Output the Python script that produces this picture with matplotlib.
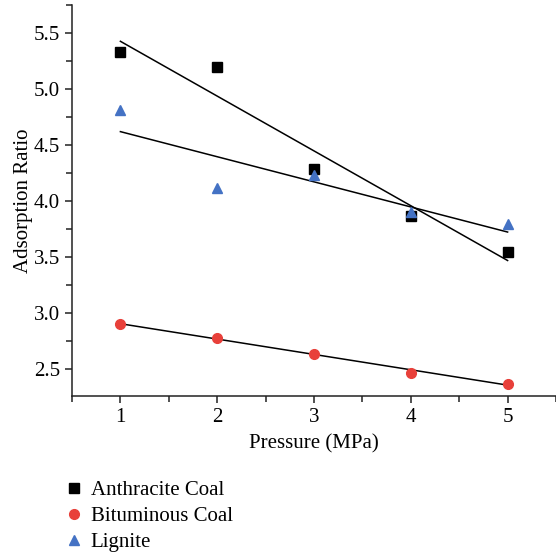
import matplotlib
matplotlib.use("Agg")
import matplotlib.pyplot as plt
import numpy as np
from matplotlib.ticker import MultipleLocator

pressure = [1, 2, 3, 4, 5]
anthracite = [5.33, 5.20, 4.29, 3.87, 3.55]
bituminous = [2.90, 2.78, 2.64, 2.47, 2.37]
lignite = [4.81, 4.12, 4.23, 3.90, 3.80]

series = [
    ("Anthracite Coal", anthracite, "s", "#000000"),
    ("Bituminous Coal", bituminous, "o", "#e8403a"),
    ("Lignite", lignite, "^", "#4472c4"),
]

plt.rcParams["font.family"] = ["Liberation Serif", "DejaVu Serif"]

fig = plt.figure(figsize=(5.56, 5.54), dpi=100)
ax = fig.add_axes([0.1295, 0.285, 0.8705, 0.706])

x = np.array(pressure, dtype=float)
for label, y, marker, color in series:
    ax.plot(x, y, linestyle="none", marker=marker, color=color,
            markersize=7, label=label, zorder=3)
    slope, icpt = np.polyfit(x, y, 1)
    ax.plot([x.min(), x.max()], [icpt + slope * x.min(), icpt + slope * x.max()],
            color="black", lw=1.1, zorder=2)

ax.set_xlim(0.5, 5.5)
ax.set_ylim(2.26, 5.75)
ax.xaxis.set_major_locator(MultipleLocator(1))
ax.xaxis.set_minor_locator(MultipleLocator(0.5))
ax.yaxis.set_major_locator(MultipleLocator(0.5))
ax.yaxis.set_minor_locator(MultipleLocator(0.25))
ax.yaxis.set_major_formatter(lambda v, p: f"{v:.1f}")
ax.tick_params(which="both", direction="out", labelsize=15, width=1.1, color="#222222")
ax.tick_params(which="major", length=5)
ax.tick_params(which="minor", length=4)
for side in ("top", "right"):
    ax.spines[side].set_visible(False)
for side in ("left", "bottom"):
    ax.spines[side].set_linewidth(1.1)
    ax.spines[side].set_color("#222222")

ax.set_xlabel("Pressure (MPa)", fontsize=15, labelpad=5)
ax.set_ylabel("Adsorption Ratio", fontsize=15, labelpad=1)

fig.legend(loc="upper left", bbox_to_anchor=(0.092, 0.151), frameon=False,
           fontsize=15, handletextpad=0.2, labelspacing=0.3, handlelength=1.2,
           borderpad=0)

fig.savefig("out.png", dpi=100)
